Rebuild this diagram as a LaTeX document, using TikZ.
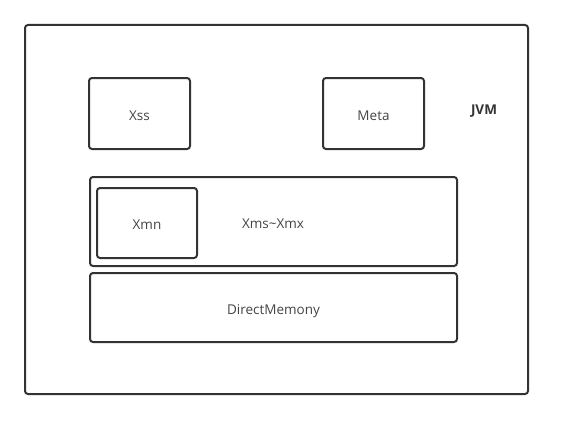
\documentclass[tikz,border=0pt]{standalone}
\usepackage{fontspec}
\setmainfont{Open Sans}
\definecolor{ink}{HTML}{333333}
\definecolor{txt}{HTML}{444444}
\begin{document}
\begin{tikzpicture}[x=1pt,y=-1pt,
  txtstyle/.style={font=\fontsize{13.5}{15}\selectfont,text=txt,text height=13pt,text depth=0pt},
  box/.style={draw=ink,line width=2pt,rounded corners=3pt,rectangle,inner sep=0pt,txtstyle},
  lbl/.style={font=\bfseries\fontsize{13.5}{15}\selectfont,text=ink}]
\useasboundingbox (0,0) rectangle (569,420);
\node[box,minimum width=503pt,minimum height=369pt] (jvmbox) at (276.5,209.5) {};
\node[box,minimum width=101pt,minimum height=71pt] (xss) at (139.5,113.5) {Xss};
\node[box,minimum width=101pt,minimum height=71pt] (meta) at (373.5,113.5) {Meta};
\node[lbl] (jvm) at (484,111) {JVM};
\node[box,minimum width=367pt,minimum height=89pt] (heap) at (273.5,221.5) {};
\node[txtstyle,inner sep=0pt] (heaplbl) at (273,222) {Xms\textasciitilde Xmx};
\node[box,minimum width=100pt,minimum height=70pt] (xmn) at (147,223) {Xmn};
\node[box,minimum width=367pt,minimum height=69pt] (dm) at (273.5,307.5) {DirectMemony};
\end{tikzpicture}
\end{document}
